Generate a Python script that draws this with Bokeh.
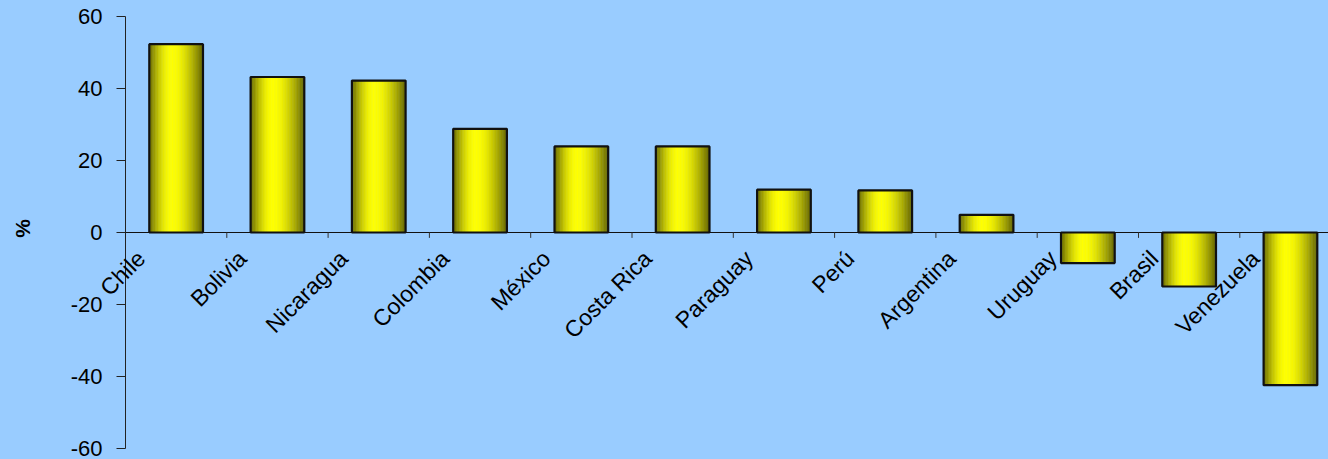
import math
from bokeh.plotting import figure
from bokeh.models import Range1d, FixedTicker, ColumnDataSource, LabelSet, Label
from bokeh.core.properties import value
from bokeh.embed import file_html
from bokeh.resources import INLINE

# ---- data ----
countries = ["Chile", "Bolivia", "Nicaragua", "Colombia", "México", "Costa Rica",
             "Paraguay", "Perú", "Argentina", "Uruguay", "Brasil", "Venezuela"]
values = [52.3, 43.2, 42.2, 28.8, 23.9, 23.9, 11.9, 11.7, 4.9, -8.5, -15.0, -42.4]
y_ticks = [-60, -40, -20, 0, 20, 40, 60]
y_tick_labels = ["-60", "-40", "-20", "0", "20", "40", "60"]
y_label = "%"

BG = "#99CCFF"
FONT = "Liberation Sans"
BAR_W = 0.53
N_STRIPS = 36
W, H = 1328, 459
AXIS_PX = 125          # pixel position of the value axis
CAT_PX = 101.3         # pixels per category
VAL_PX = 3.6           # pixels per value unit
TOP_PX, BOT_PX = 16, 11  # space above the +60 tick and below the -60 tick

x_start = -AXIS_PX / CAT_PX
x_end = (W - AXIS_PX) / CAT_PX
y_lo, y_hi = min(y_ticks), max(y_ticks)

p = figure(width=W, height=H, output_backend="svg", toolbar_location=None,
           x_range=Range1d(x_start, x_end),
           y_range=Range1d(y_lo - BOT_PX / VAL_PX, y_hi + TOP_PX / VAL_PX),
           min_border_left=0, min_border_right=0, min_border_top=0,
           min_border_bottom=0)
p.background_fill_color = BG
p.border_fill_color = BG
p.outline_line_color = None
p.xaxis.visible = False
p.xgrid.visible = False
p.ygrid.visible = False

# y axis, fixed at the start of the category region
ya = p.yaxis[0]
ya.fixed_location = 0
ya.bounds = (y_lo, y_hi)
ya.ticker = FixedTicker(ticks=y_ticks)
ya.major_label_overrides = {t: s for t, s in zip(y_ticks, y_tick_labels)}
ya.minor_tick_line_color = None
ya.major_tick_out = 9
ya.major_tick_in = 0
ya.axis_line_color = "#222222"
ya.major_tick_line_color = "#222222"
ya.major_label_text_font = FONT
ya.major_label_text_font_size = "22px"
ya.major_label_text_color = "black"
ya.major_label_standoff = 14

p.add_layout(Label(x=0, y=0, x_offset=-103, y_offset=4, text=y_label, angle=90,
                   angle_units="deg", text_align="center", text_baseline="middle",
                   text_font=FONT, text_font_style="bold", text_font_size="21px",
                   text_color="black"))

# gradient shading for cylinder-like bars
def shade(t):
    if t < 0.42:
        b = 0.40 + 0.60 * math.sin(math.pi / 2 * t / 0.42)
    else:
        b = 0.40 + 0.60 * math.cos(math.pi / 2 * (t - 0.42) / 0.58)
    v = int(round(255 * b))
    return "#%02x%02x00" % (v, v)

sl, sr, st, sb, sc = [], [], [], [], []
for i, v in enumerate(values):
    cx = i + 0.5
    x0 = cx - BAR_W / 2
    dw = BAR_W / N_STRIPS
    for k in range(N_STRIPS):
        t = (k + 0.5) / N_STRIPS
        sl.append(x0 + k * dw)
        sr.append(x0 + (k + 1) * dw)
        st.append(max(v, 0))
        sb.append(min(v, 0))
        sc.append(shade(t))
p.quad(left=sl, right=sr, top=st, bottom=sb, fill_color=sc, line_color=sc, line_width=0.6)

xs = [i + 0.5 for i in range(len(countries))]
p.vbar(x=xs, width=BAR_W, top=values, bottom=0, fill_alpha=0,
       line_color="#111111", line_width=2.2)

# category axis line at zero with ticks between categories
p.segment(x0=[0], y0=[0], x1=[x_end], y1=[0], line_color="#111111", line_width=1.2)
bounds = [i for i in range(1, len(countries) + 1)]
p.segment(x0=bounds, y0=[0] * len(bounds), x1=bounds, y1=[-1.5] * len(bounds),
          line_color="#333333", line_width=1)

src = ColumnDataSource(dict(x=xs, y=[0] * len(xs), t=countries))
labels = LabelSet(x="x", y="y", text="t", source=src, angle=45, angle_units="deg",
                  text_align="right", text_baseline="middle", x_offset=-35, y_offset=-22,
                  text_font=value(FONT), text_font_size="23px", text_color="black")
p.add_layout(labels)

html = file_html(p, INLINE)
html = html.replace("</head>",
                    "<style>html,body{margin:0;padding:0;background:#99CCFF;overflow:hidden;}</style></head>", 1)
open("out.html", "w").write(html)
